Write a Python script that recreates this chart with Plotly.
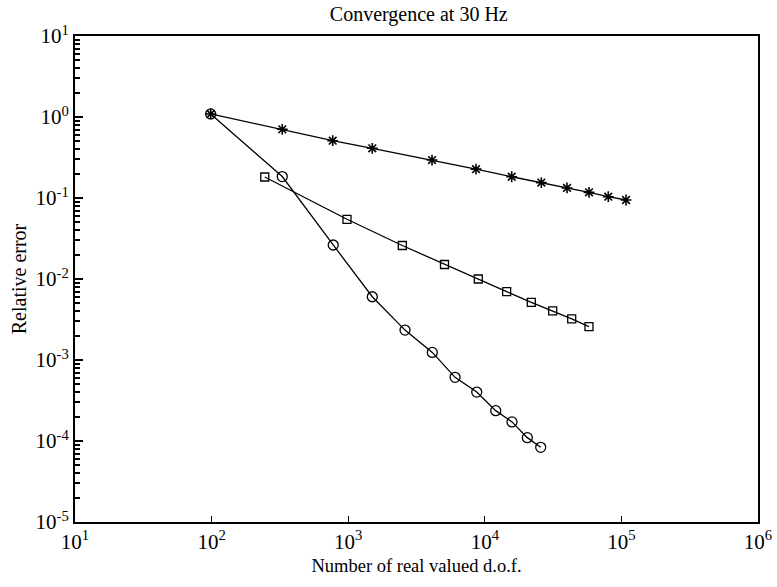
import numpy as np
import plotly.graph_objects as go

# Data
star_x = [98.5, 329, 770, 1501, 4107, 8625, 15740, 25930, 39980, 57930, 80190, 108100]
star_y = [1.09, 0.705, 0.51, 0.411, 0.294, 0.227, 0.183, 0.155, 0.133, 0.1175, 0.1037, 0.0945]

square_x = [245, 980, 2489, 5070, 8960, 14450, 21900, 31400, 43260, 57900]
square_y = [0.1817, 0.0546, 0.0259, 0.0151, 0.0100, 0.00697, 0.00515, 0.00403, 0.00321, 0.00258]

circle_x = [98.5, 329, 777, 1501, 2606, 4128, 6058, 8730, 12020, 15820, 20480, 25660]
circle_y = [1.09, 0.184, 0.0263, 0.00604, 0.00234, 0.00124, 6.11e-4, 4.02e-4, 2.37e-4, 1.72e-4, 1.10e-4, 8.36e-5]

x_exponents = [1, 2, 3, 4, 5, 6]
y_exponents = [-5, -4, -3, -2, -1, 0, 1]

title_text = "Convergence at 30 Hz"
x_label = "Number of real valued d.o.f."
y_label = "Relative error"

FONT = "Liberation Serif, Times New Roman, serif"

fig = go.Figure()
fig.add_trace(go.Scatter(x=star_x, y=star_y, mode="lines+markers",
                         line=dict(color="black", width=1.3),
                         marker=dict(symbol="asterisk-open", size=9, color="black",
                                     line=dict(width=1.6, color="black"))))
fig.add_trace(go.Scatter(x=square_x, y=square_y, mode="lines+markers",
                         line=dict(color="black", width=1.3),
                         marker=dict(symbol="square-open", size=8, color="black",
                                     line=dict(width=1.3, color="black"))))
fig.add_trace(go.Scatter(x=circle_x, y=circle_y, mode="lines+markers",
                         line=dict(color="black", width=1.3),
                         marker=dict(symbol="circle-open", size=10, color="black",
                                     line=dict(width=1.3, color="black"))))

xt = [10.0 ** e for e in x_exponents]
yt = [10.0 ** e for e in y_exponents]
y_minor = [m * 10.0 ** e for e in y_exponents[:-1] for m in range(2, 10)]

fig.update_layout(
    width=777, height=587,
    margin=dict(l=75, r=19, t=36, b=65, autoexpand=False),
    paper_bgcolor="white", plot_bgcolor="white",
    showlegend=False,
    font=dict(family=FONT, color="black", size=18),
    title=dict(text=title_text, x=0.539, xanchor="center", y=0.976, yanchor="middle",
               font=dict(family=FONT, size=20, color="black")),
    xaxis=dict(type="log", range=[1, 6], tickvals=xt,
               ticktext=[f"10<sup>{e}</sup>" for e in x_exponents],
               ticks="inside", ticklen=6, tickwidth=1, tickcolor="black",
               showgrid=False, zeroline=False, automargin=False,
               showline=True, linecolor="black", linewidth=2, mirror=True,
               tickfont=dict(family=FONT, size=21, color="black"),
               title=dict(text=x_label, standoff=6, font=dict(family=FONT, size=18.5))),
    yaxis=dict(type="log", range=[-5, 1], tickvals=yt,
               ticktext=[f"10<sup>{e}</sup>" for e in y_exponents],
               ticks="inside", ticklen=8, tickwidth=1.5, tickcolor="black",
               minor=dict(tickvals=y_minor, ticks="inside", ticklen=5, tickwidth=1.5,
                          tickcolor="black", showgrid=False),
               showgrid=False, zeroline=False, automargin=False,
               showline=True, linecolor="black", linewidth=2, mirror=True,
               tickfont=dict(family=FONT, size=21, color="black"),
               title=dict(text=y_label, standoff=4, font=dict(family=FONT, size=20))),
)

fig.write_html("out.html")
